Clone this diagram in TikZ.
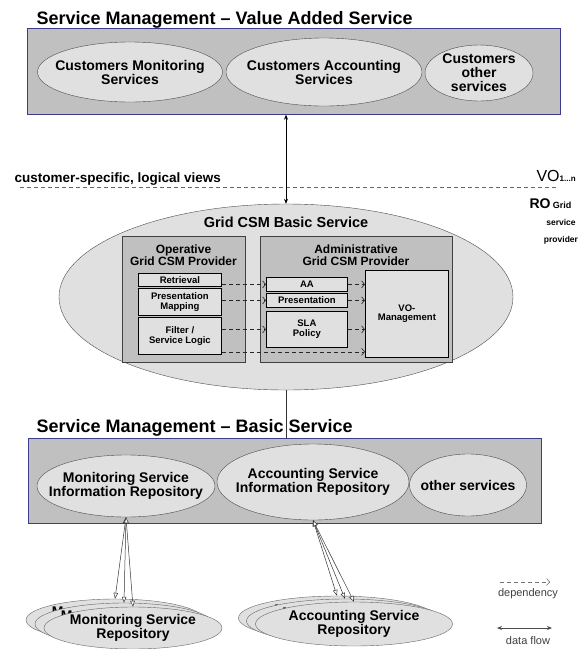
\documentclass[tikz,border=0pt]{standalone}
\usepackage{fontspec}
\setmainfont{Liberation Sans}
\usetikzlibrary{positioning, arrows.meta, shapes.geometric}

\definecolor{areagray}{HTML}{C0C0C0}
\definecolor{cellgray}{HTML}{E0E0E0}
\definecolor{areaframe}{HTML}{3C3C8C}
\newcommand{\fsz}[1]{\fontsize{#1}{#1}\selectfont}

\begin{document}
\begin{tikzpicture}[x=1pt,y=-1pt,
  svcarea/.style={draw=areaframe,fill=areagray,line width=0.7pt,anchor=north west,inner sep=0},
  svcell/.style={ellipse,draw=black!70,fill=cellgray,inner sep=0},
  celltext/.style={align=center,font=\bfseries\fsz{14}},
  provarea/.style={draw=black!75,fill=areagray,line width=0.8pt,anchor=north west,inner sep=0},
  func/.style={draw=black,fill=cellgray,line width=0.8pt,anchor=north west,inner sep=0,align=center,font=\bfseries\fsz{9.5}},
  dep/.style={dash pattern=on 4pt off 3pt,black!85,line width=0.6pt,-{Straight Barb[length=3pt,width=7pt]}},
  access/.style={black,line width=0.6pt,{Stealth[length=5pt,width=4pt]}-{Stealth[length=5pt,width=4pt]}},
  flow/.style={black!80,line width=0.5pt,{Triangle[fill=white,length=6pt,width=4.5pt]}-{Triangle[fill=white,length=6pt,width=4.5pt]}},
  repo/.style={ellipse,draw=black!60,fill=cellgray,inner sep=0},
  repotext/.style={align=center,font=\bfseries\fsz{14}},
]
\useasboundingbox (0,0) rectangle (580,649);

% value added service
\node[anchor=base west,font=\bfseries\fsz{18}] (vastitle) at (33,24) {Service Management – Value Added Service};
\node[svcarea,minimum width=533pt,minimum height=86pt] (vasbox) at (27,28) {};
\node[svcell,minimum width=185pt,minimum height=60pt,label={[celltext]center:Customers Monitoring\\Services}] (cmon) at (130,72) {};
\node[svcell,minimum width=196pt,minimum height=68pt,label={[celltext]center:Customers Accounting\\Services}] (cacc) at (324,72) {};
\node[svcell,minimum width=108pt,minimum height=56pt,label={[celltext]center:Customers\\other\\services}] (coth) at (479,73) {};

% views
\node[anchor=base west,font=\bfseries\fsz{13.5}] (views) at (11,182) {customer-specific, logical views};
\node[anchor=base west,font=\fsz{16}] (vo) at (533,181) {VO{\bfseries\fsz{8}1...n}};
\coordinate (viewl) at (20,187);
\coordinate (viewr) at (558,187);
\draw[black!60,dash pattern=on 4pt off 3pt] (viewl) -- (viewr);
\node[anchor=base west,font=\bfseries\fsz{14}] (ro) at (526,208) {RO\,{\fsz{9}Grid}};
\node[font=\bfseries\fsz{8.5}] (rosvc) at (561,222) {service};
\node[font=\bfseries\fsz{8.5}] (roprov) at (561,240) {provider};

% grid csm basic service
\node[ellipse,draw=black!70,fill=cellgray,minimum width=454pt,minimum height=186pt,inner sep=0] (csm) at (286,297) {};
\node[font=\bfseries\fsz{14.5}] (csmtitle) at (286,222) {Grid CSM Basic Service};
\draw[access] (csm.north) -- (vasbox.south -| csm.north);

\node[provarea,minimum width=123pt,minimum height=126pt] (oper) at (122,236) {};
\node[align=center,font=\bfseries\fsz{12}] (opertxt) at (183.5,255) {Operative\\Grid CSM Provider};
\node[provarea,minimum width=192pt,minimum height=126pt] (admin) at (260,236) {};
\node[align=center,font=\bfseries\fsz{12}] (admintxt) at (356,255) {Administrative\\Grid CSM Provider};

\node[func,minimum width=83pt,minimum height=13pt] (ret) at (138,273) {Retrieval};
\node[func,minimum width=83pt,minimum height=27pt] (pmap) at (138,288) {Presentation\\Mapping};
\node[func,minimum width=83pt,minimum height=37pt] (flt) at (138,317) {Filter /\\Service Logic};
\node[func,minimum width=81pt,minimum height=14pt] (aa) at (266,277) {AA};
\node[func,minimum width=81pt,minimum height=14pt] (pres) at (266,293) {Presentation};
\node[func,minimum width=81pt,minimum height=36pt] (sla) at (266,311) {SLA\\Policy};
\node[func,minimum width=83pt,minimum height=87pt] (vom) at (365,270) {VO-\\Management};

\coordinate (fltlow) at ([yshift=3pt]flt.south east);
\draw[dep] (ret.east |- aa.west) -- (aa.west);
\draw[dep] (pmap.east |- pres.west) -- (pres.west);
\draw[dep] (flt.east |- sla.west) -- (sla.west);
\draw[dep] (fltlow) -- (fltlow -| vom.west);
\draw[dep] (aa.east) -- (aa.east -| vom.west);
\draw[dep] (pres.east) -- (pres.east -| vom.west);
\draw[dep] (sla.east) -- (sla.east -| vom.west);

% basic service
\node[anchor=base west,font=\bfseries\fsz{18}] (bastitle) at (33,432) {Service Management – Basic Service};
\node[svcarea,minimum width=513pt,minimum height=85pt] (basbox) at (28,438) {};
\draw[black!80,line width=0.6pt] (csm.south) -- (basbox.north -| csm.south);
\node[svcell,minimum width=178pt,minimum height=62pt,label={[celltext]center:Monitoring Service\\Information Repository}] (msir) at (126,486) {};
\node[svcell,minimum width=192pt,minimum height=76pt,label={[celltext]center:Accounting Service\\Information Repository}] (asir) at (313,482) {};
\node[svcell,minimum width=117pt,minimum height=62pt,label={[celltext]center:other services}] (osvc) at (468,485) {};

% repositories
\node[repo,minimum width=178pt,minimum height=42pt,label={[repotext]center:Monitoring Service\\Repository}] (mrep1) at (115,620) {};
\node[repo,minimum width=178pt,minimum height=42pt,label={[repotext]center:Monitoring Service\\Repository}] (mrep2) at (124,624) {};
\node[repo,minimum width=178pt,minimum height=42pt,label={[repotext]center:Monitoring Service\\Repository}] (mrep3) at (133,628) {};
\node[repo,minimum width=197pt,minimum height=44pt,label={[repotext]center:Accounting Service\\Repository}] (arep1) at (337,618) {};
\node[repo,minimum width=197pt,minimum height=44pt,label={[repotext]center:Accounting Service\\Repository}] (arep2) at (345,621) {};
\node[repo,minimum width=197pt,minimum height=44pt,label={[repotext]center:Accounting Service\\Repository}] (arep3) at (354,624) {};

\draw[flow] (msir.south) -- (mrep1.north);
\draw[flow] (msir.south) -- (mrep2.north);
\draw[flow] (msir.south) -- (mrep3.north);
\draw[flow] (asir.south) -- (arep1.north);
\draw[flow] (asir.south) -- (arep2.north);
\draw[flow] (asir.south) -- (arep3.north);

% legend
\coordinate (depa) at (500,582);
\coordinate (depb) at (550,582);
\draw[dep,black!55] (depa) -- (depb);
\node[font=\fsz{11},text=black!75] (deptxt) at (528,594) {dependency};
\coordinate (flowa) at (497,628);
\coordinate (flowb) at (552,628);
\draw[black!70,line width=0.8pt,{Stealth[length=5pt,width=4pt]}-{Stealth[length=5pt,width=4pt]}] (flowa) -- (flowb);
\node[font=\fsz{11},text=black!75] (flowtxt) at (528,641) {data flow};
\end{tikzpicture}
\end{document}
